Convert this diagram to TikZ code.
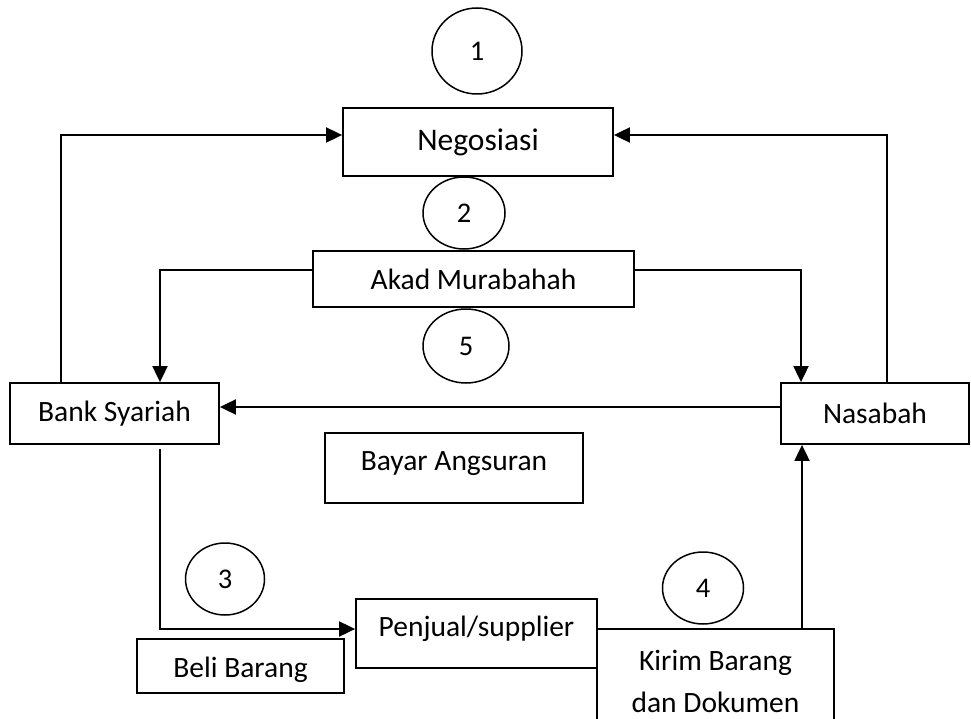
\documentclass[tikz,border=0pt]{standalone}
\usepackage{fontspec}
\setmainfont{Carlito}
\usetikzlibrary{arrows.meta,shapes.geometric}
\begin{document}
\begin{tikzpicture}[x=1pt,y=-1pt,
  txt/.style={font=\fontsize{29.5}{36}\selectfont},
  box/.style={draw,line width=1.8pt,inner sep=0pt,txt},
  num/.style={draw,ellipse,line width=1.5pt,inner sep=0pt,font=\fontsize{28.5}{34}\selectfont},
  link/.style={line width=1.9pt},
  arr/.style={link,-{Triangle[length=16pt,width=15pt]}}]
\useasboundingbox (0,0) rectangle (971,719);
% boxes
\node[box,minimum width=270pt,minimum height=68pt,font=\fontsize{31.5}{38}\selectfont] (nego) at (478,142) {Negosiasi};
\node[box,minimum width=321pt,minimum height=56pt] (akad) at (473.5,279) {Akad Murabahah};
\node[box,minimum width=209pt,minimum height=61pt] (bank) at (114.5,413.5) {Bank Syariah};
\node[box,minimum width=188pt,minimum height=61pt] (nas) at (875,413.5) {Nasabah};
\node[box,minimum width=258pt,minimum height=70pt] (bayar) at (454,468) {};
\node[txt] (bayartxt) at (454,464) {Bayar Angsuran};
\node[box,minimum width=241pt,minimum height=69pt] (penjual) at (476.5,633.5) {};
\node[txt] (penjualtxt) at (476.5,629) {Penjual/supplier};
\node[box,minimum width=207pt,minimum height=54pt] (beli) at (240.5,666) {};
\begin{scope}
\clip (137,639) rectangle (344,683);
\node[txt] (belitxt) at (240.5,670) {Beli Barang};
\end{scope}
\node[box,minimum width=237pt,minimum height=111pt] (kirim) at (715.5,684.5) {};
\node[font=\fontsize{29.5}{42}\selectfont,align=center] (kirimtxt) at (715.5,681) {Kirim Barang\\dan Dokumen};
% numbered circles
\node[num,minimum width=90pt,minimum height=86pt] (c1) at (477,51) {1};
\node[num,minimum width=82pt,minimum height=72pt] (c2) at (464,213) {2};
\node[num,minimum width=86pt,minimum height=74pt] (c5) at (466,346) {5};
\node[num,minimum width=79pt,minimum height=72pt] (c3) at (225,579) {3};
\node[num,minimum width=81pt,minimum height=72pt] (c4) at (703,588) {4};
% helper coordinates
\coordinate (lx) at (61,135);
\coordinate (rx) at (887,135);
\coordinate (akl) at (160,270);
\coordinate (akr) at (801,270);
\coordinate (midy) at (500,407);
\coordinate (bx) at (160,449);
\coordinate (by) at (300,629);
\coordinate (kx) at (802,629);
% connectors
\draw[arr] (bank.north -| lx) |- (lx -| nego.west);
\draw[arr] (nas.north -| rx) |- (rx -| nego.east);
\draw[arr] (akl -| akad.west) -| (bank.north -| akl);
\draw[arr] (akr -| akad.east) -| (nas.north -| akr);
\draw[arr] (midy -| nas.west) -- (midy -| bank.east);
\draw[arr] (bx) |- (by -| penjual.west);
\draw[arr] (by -| penjual.east) -| (nas.south -| kx);
\end{tikzpicture}
\end{document}
